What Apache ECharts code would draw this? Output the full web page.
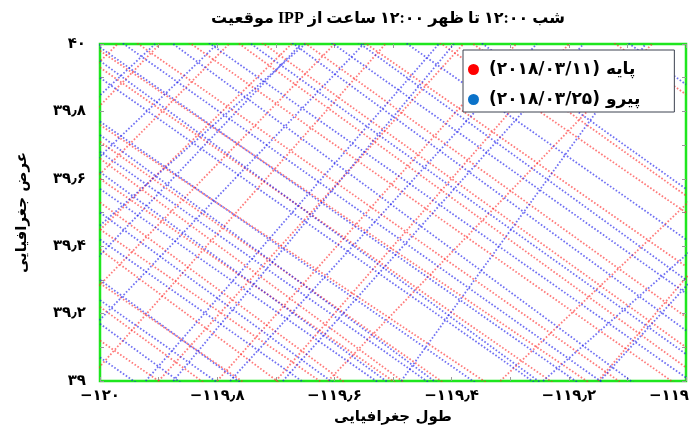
<!DOCTYPE html>
<html>
<head>
<meta charset="utf-8">
<script src="https://cdn.jsdelivr.net/npm/echarts@6/dist/echarts.min.js"></script>
<style>
  html, body { margin: 0; padding: 0; background: #fff; }
  #chart { width: 693px; height: 428px; }
</style>
</head>
<body>
<div id="chart"></div>
<script>
// Axis ticks (degrees) and their Persian labels
const xTicks = [-120, -119.8, -119.6, -119.4, -119.2, -119];
const xTickLabels = ['−۱۲۰', '−۱۱۹٫۸', '−۱۱۹٫۶', '−۱۱۹٫۴', '−۱۱۹٫۲', '−۱۱۹'];
const yTicks = [39, 39.2, 39.4, 39.6, 39.8, 40];
const yTickLabels = ['۳۹', '۳۹٫۲', '۳۹٫۴', '۳۹٫۶', '۳۹٫۸', '۴۰'];

// Title words, drawn left to right
const titleWords = ['موقعیت', 'IPP', 'از', 'ساعت', '۱۲:۰۰', 'ظهر', 'تا', '۱۲:۰۰', 'شب'];
const xName = 'طول جغرافیایی';
const yName = 'عرض جغرافیایی';
const baseName = 'پایه (۲۰۱۸/۰۳/۱۱)';
const followName = 'پیرو (۲۰۱۸/۰۳/۲۵)';

// IPP tracks of the base day, each [lon1, lat1, lon2, lat2]
const baseTracks = [
  [-120, 41.10, -119, 39.85],
  [-120, 40.79, -119, 39.55],
  [-120, 40.70, -119, 39.50],
  [-120, 40.55, -119, 39.34],
  [-120, 40.44, -119, 39.19],
  [-120, 40.35, -119, 39.10],
  [-120, 40.30, -119, 39.04],
  [-120, 40.19, -119, 38.97],
  [-120, 40.08, -119, 38.86],
  [-120, 39.98, -119, 38.80],
  [-120, 39.93, -119, 38.72],
  [-120, 39.76, -119, 38.60],
  [-120, 39.71, -119, 38.49],
  [-120, 39.66, -119, 38.38],
  [-120, 39.60, -119, 38.40],
  [-120, 39.53, -119, 38.25],
  [-120, 39.45, -119, 38.25],
  [-120, 39.39, -119, 38.10],
  [-120, 39.29, -119, 38.09],
  [-120, 39.22, -119, 37.95],
  [-120, 39.12, -119, 37.92],
  [-120.550, 39, -119.970, 40],
  [-120.456, 39, -119.898, 40],
  [-120.350, 39, -119.780, 40],
  [-120.266, 39, -119.673, 40],
  [-120.160, 39, -119.600, 40],
  [-120.022, 39, -119.513, 40],
  [-119.900, 39, -119.380, 40],
  [-119.800, 39, -119.290, 40],
  [-119.700, 39, -119.200, 40],
  [-119.611, 39, -119.058, 40],
  [-119.317, 39, -118.712, 40],
  [-119.150, 39, -118.660, 40]
];

// IPP tracks of the follow-up day, each [lon1, lat1, lon2, lat2]
const followTracks = [
  [-120, 41.13, -119, 39.88],
  [-120, 40.81, -119, 39.57],
  [-120, 40.64, -119, 39.42],
  [-120, 40.56, -119, 39.30],
  [-120, 40.49, -119, 39.26],
  [-120, 40.42, -119, 39.15],
  [-120, 40.32, -119, 39.08],
  [-120, 40.23, -119, 39.01],
  [-120, 40.16, -119, 38.88],
  [-120, 40.05, -119, 38.82],
  [-120, 39.99, -119, 38.77],
  [-120, 39.95, -119, 38.68],
  [-120, 39.90, -119, 38.68],
  [-120, 39.77, -119, 38.56],
  [-120, 39.73, -119, 38.45],
  [-120, 39.68, -119, 38.46],
  [-120, 39.62, -119, 38.35],
  [-120, 39.57, -119, 38.36],
  [-120, 39.50, -119, 38.23],
  [-120, 39.42, -119, 38.20],
  [-120, 39.30, -119, 38.03],
  [-120, 39.24, -119, 38.02],
  [-120, 39.17, -119, 37.90],
  [-120, 39.07, -119, 37.85],
  [-120.620, 39, -120.000, 40],
  [-120.524, 39, -119.906, 40],
  [-120.400, 39, -119.800, 40],
  [-120.300, 39, -119.650, 40],
  [-120.205, 39, -119.657, 40],
  [-120.100, 39, -119.550, 40],
  [-119.922, 39, -119.422, 40],
  [-119.875, 39, -119.396, 40],
  [-119.778, 39, -119.255, 40],
  [-119.688, 39, -119.175, 40],
  [-119.486, 39, -119.069, 40],
  [-119.244, 39, -118.591, 40],
  [-119.147, 39, -118.624, 40]
];

// Right-to-left embedding for Persian phrases; LRM keeps the title's word order
const rtl = s => '\u202B' + s + '\u202C';
const ltrWords = words => words.join('\u200E \u200E');
const FA_FONT = "'DejaVu Sans', sans-serif";

function tickLabel(ticks, labels, nudgeLast) {
  return v => {
    for (let i = 0; i < ticks.length; i++) {
      if (Math.abs(v - ticks[i]) < 1e-6) {
        // the last label is nudged left so it stays inside the canvas
        return nudgeLast && i === ticks.length - 1 ? '{edge|' + labels[i] + '}' : labels[i];
      }
    }
    return '';
  };
}

function trackSeries(tracks, name, color) {
  return tracks.map(t => ({
    name: name,
    type: 'line',
    xAxisIndex: 0,
    yAxisIndex: 0,
    data: [[t[0], t[1]], [t[2], t[3]]],
    symbol: 'none',
    silent: true,
    clip: true,
    color: color,
    lineStyle: { color: color, width: 1.8, type: [1.6, 1.9] },
    animation: false
  }));
}

const tickStyle = { show: true, inside: true, length: 4, lineStyle: { color: '#9a9a9a', width: 1 } };
const minorStyle = { show: true, splitNumber: 2, length: 4, lineStyle: { color: '#9a9a9a', width: 1 } };
const labelFont = { fontFamily: FA_FONT, fontWeight: 'bold', fontSize: 15, color: '#000' };

const chart = echarts.init(document.getElementById('chart'));
chart.setOption({
  animation: false,
  backgroundColor: '#ffffff',
  title: {
    text: ltrWords(titleWords),
    left: 383,
    textAlign: 'center',
    top: 6,
    textStyle: { fontFamily: "'Liberation Serif', 'DejaVu Sans', serif", fontWeight: 'bold', fontSize: 16, color: '#000' }
  },
  legend: {
    orient: 'vertical',
    left: 463,
    top: 50,
    padding: [10, 34, 3, 5],
    itemGap: 11,
    itemWidth: 11,
    itemHeight: 11,
    icon: 'circle',
    backgroundColor: '#ffffff',
    borderColor: '#3c4250',
    borderWidth: 1,
    borderRadius: 0,
    formatter: n => rtl(n),
    textStyle: { fontFamily: FA_FONT, fontWeight: 'bold', fontSize: 17, lineHeight: 19, color: '#000', padding: [0, 0, 0, 5] },
    data: [
      { name: baseName, itemStyle: { color: '#ff0000' } },
      { name: followName, itemStyle: { color: '#0b72c9' } }
    ]
  },
  grid: {
    left: 100, right: 7, top: 44, bottom: 47,
    outerBoundsMode: 'none',
    containLabel: false,
    show: true,
    borderColor: '#1ee61e',
    borderWidth: 2.5,
    backgroundColor: '#ffffff'
  },
  xAxis: [
    {
      type: 'value', min: -120, max: -119, interval: 0.2, position: 'bottom',
      axisLine: { show: false },
      axisTick: tickStyle,
      minorTick: minorStyle,
      splitLine: { show: false },
      axisLabel: Object.assign({
        margin: 8,
        formatter: tickLabel(xTicks, xTickLabels, true),
        rich: { edge: Object.assign({ padding: [0, 34, 0, 0] }, labelFont) }
      }, labelFont),
      name: rtl(xName),
      nameLocation: 'middle',
      nameGap: 29,
      nameTextStyle: labelFont
    },
    {
      type: 'value', min: -120, max: -119, interval: 0.2, position: 'top',
      axisLine: { show: false },
      axisTick: tickStyle,
      minorTick: minorStyle,
      splitLine: { show: false },
      axisLabel: { show: false }
    }
  ],
  yAxis: [
    {
      type: 'value', min: 39, max: 40, interval: 0.2, position: 'left',
      axisLine: { show: false },
      axisTick: tickStyle,
      minorTick: minorStyle,
      splitLine: { show: false },
      axisLabel: Object.assign({
        margin: 14,
        formatter: tickLabel(yTicks, yTickLabels, false)
      }, labelFont),
      name: rtl(yName),
      nameLocation: 'middle',
      nameGap: 70,
      nameRotate: 90,
      nameTextStyle: labelFont
    },
    {
      type: 'value', min: 39, max: 40, interval: 0.2, position: 'right',
      axisLine: { show: false },
      axisTick: tickStyle,
      minorTick: minorStyle,
      splitLine: { show: false },
      axisLabel: { show: false }
    }
  ],
  series: [].concat(
    trackSeries(baseTracks, baseName, 'rgba(255,40,40,0.62)'),
    trackSeries(followTracks, followName, 'rgba(25,25,235,0.62)')
  )
});
</script>
</body>
</html>
